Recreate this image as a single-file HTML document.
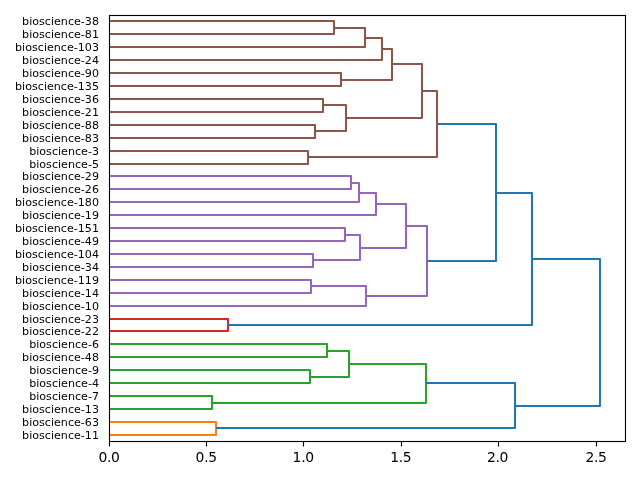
<!DOCTYPE html>
<html><head><meta charset="utf-8"><title>dendrogram</title>
<style>
html,body{margin:0;padding:0;background:#fff;overflow:hidden}
svg{display:block}
text{font-family:"DejaVu Sans","Liberation Sans",sans-serif;fill:#000}
.leaf text{font-size:11.11px;text-anchor:end}
.xt text{font-size:13.89px;text-anchor:middle;letter-spacing:-0.3px}
.links path{fill:none;stroke-width:2.08;stroke-linejoin:round;stroke-linecap:butt}
</style></head><body>
<svg width="640" height="480" viewBox="0 0 640 480">
<rect width="640" height="480" fill="#fff"/>
<g class="links">
<path d="M109.5 21H334V34H109.5M334 28H365V47H109.5M365 38H382V60H109.5M109.5 73H341V86H109.5M382 49H392V80H341M109.5 99H323V112H109.5M109.5 125H315V138H109.5M323 105H346V131H315M392 64H422V118H346M109.5 151H308V164H109.5M422 91H437V157H308" stroke="#8c564b"/>
<path d="M109.5 176H351V189H109.5M351 183H359V202H109.5M359 193H376V215H109.5M109.5 228H345V241H109.5M109.5 254H313V267H109.5M345 235H360V260H313M376 204H406V248H360M109.5 280H311V293H109.5M311 286H366V306H109.5M406 226H427V296H366" stroke="#9467bd"/>
<path d="M109.5 319H228V331H109.5" stroke="#d62728"/>
<path d="M109.5 344H327V357H109.5M109.5 370H310V383H109.5M327 351H349V377H310M109.5 396H212V409H109.5M349 364H426V403H212" stroke="#2ca02c"/>
<path d="M109.5 422H216V435H109.5" stroke="#ff7f0e"/>
<path d="M437 124H496V261H427M496 193H532V325H228M426 383H515V428H216M532 259H600V406H515" stroke="#1f77b4"/>
</g>
<rect x="109.5" y="15.5" width="516" height="426" fill="none" stroke="#000" stroke-width="1.11"/>
<path d="M109.5 441.5v4.9M206.5 441.5v4.9M303.5 441.5v4.9M401.5 441.5v4.9M498.5 441.5v4.9M596.5 441.5v4.9" stroke="#000" stroke-width="1.11" fill="none"/>
<g class="leaf">
<text x="99.0" y="25.0">bioscience-38</text>
<text x="99.0" y="38.0">bioscience-81</text>
<text x="99.0" y="51.0">bioscience-103</text>
<text x="99.0" y="64.0">bioscience-24</text>
<text x="99.0" y="77.0">bioscience-90</text>
<text x="99.0" y="90.0">bioscience-135</text>
<text x="99.0" y="103.0">bioscience-36</text>
<text x="99.0" y="116.0">bioscience-21</text>
<text x="99.0" y="129.0">bioscience-88</text>
<text x="99.0" y="142.0">bioscience-83</text>
<text x="99.0" y="155.0">bioscience-3</text>
<text x="99.0" y="168.0">bioscience-5</text>
<text x="99.0" y="180.0">bioscience-29</text>
<text x="99.0" y="193.0">bioscience-26</text>
<text x="99.0" y="206.0">bioscience-180</text>
<text x="99.0" y="219.0">bioscience-19</text>
<text x="99.0" y="232.0">bioscience-151</text>
<text x="99.0" y="245.0">bioscience-49</text>
<text x="99.0" y="258.0">bioscience-104</text>
<text x="99.0" y="271.0">bioscience-34</text>
<text x="99.0" y="284.0">bioscience-119</text>
<text x="99.0" y="297.0">bioscience-14</text>
<text x="99.0" y="310.0">bioscience-10</text>
<text x="99.0" y="323.0">bioscience-23</text>
<text x="99.0" y="335.0">bioscience-22</text>
<text x="99.0" y="348.0">bioscience-6</text>
<text x="99.0" y="361.0">bioscience-48</text>
<text x="99.0" y="374.0">bioscience-9</text>
<text x="99.0" y="387.0">bioscience-4</text>
<text x="99.0" y="400.0">bioscience-7</text>
<text x="99.0" y="413.0">bioscience-13</text>
<text x="99.0" y="426.0">bioscience-63</text>
<text x="99.0" y="439.0">bioscience-11</text>
</g>
<g class="xt">
<text x="109.0" y="462">0.0</text>
<text x="206.2" y="462">0.5</text>
<text x="303.2" y="462">1.0</text>
<text x="400.8" y="462">1.5</text>
<text x="497.5" y="462">2.0</text>
<text x="596.0" y="462">2.5</text>
</g>
</svg>
</body></html>
